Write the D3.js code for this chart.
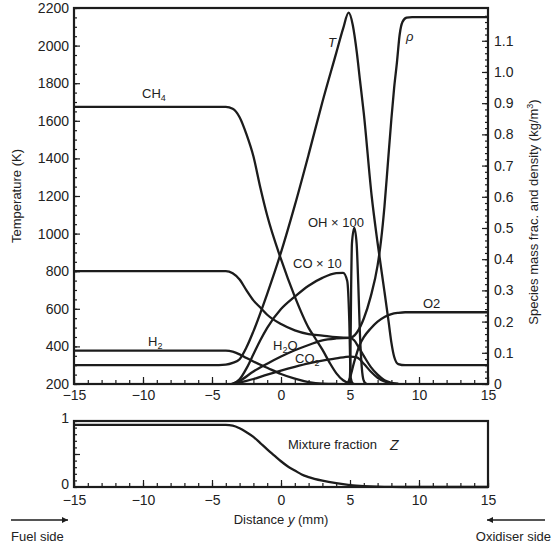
<!DOCTYPE html>
<html><head><meta charset="utf-8">
<script src="https://cdn.jsdelivr.net/npm/d3@7"></script>
<style>
body{margin:0;background:#fff;}
svg text{font-family:"Liberation Sans",Arial,sans-serif;fill:#222;}
</style></head><body>
<svg id="c" width="554" height="547"></svg>
<script>
// ---- data (x in mm) ----
const xTicks = [-15,-10,-5,0,5,10,15];
const tTicks = [200,400,600,800,1000,1200,1400,1600,1800,2000,2200];
const rTicks = [0,0.1,0.2,0.3,0.4,0.5,0.6,0.7,0.8,0.9,1.0,1.1];
const zTicks = [0,1];

// Temperature (K) – left axis
const temperature = [[-15,300],[-5,300],[-4,303],[-3.5,312],[-3,332],[-2.5,395],[-2,480],[-1,680],[0,900],[1,1150],[2,1420],[3,1700],[4,1960],[4.5,2090],[4.9,2175],[5.2,2110],[5.5,1960],[5.72,1817],[6,1640],[6.57,1200],[7,950],[7.5,690],[7.8,530],[8,420],[8.2,345],[8.5,306],[9,300],[15,300]];
// density (kg/m3) – right axis
const density = [[-15,0.362],[-4,0.362],[-3.5,0.355],[-3,0.335],[-2.5,0.30],[-2,0.268],[-1.5,0.245],[-1,0.222],[0,0.192],[1,0.172],[2,0.16],[3,0.155],[4,0.15],[5,0.148],[5.5,0.165],[6,0.21],[6.5,0.28],[7,0.38],[7.25,0.46],[7.5,0.57],[7.75,0.71],[8,0.85],[8.2,0.95],[8.4,1.03],[8.6,1.12],[8.8,1.16],[9.1,1.174],[9.5,1.176],[15,1.176]];
// species mass fractions – right axis
const ch4 = [[-15,0.888],[-4,0.888],[-3.5,0.882],[-3,0.855],[-2.5,0.80],[-2,0.73],[-1.5,0.63],[-1,0.54],[0,0.40],[1,0.28],[2,0.18],[2.5,0.145],[3,0.11],[3.5,0.07],[4,0.035],[4.5,0.012],[5,0.002],[5.3,0]];
const h2 = [[-15,0.107],[-4,0.107],[-3.5,0.104],[-3,0.095],[-2.5,0.083],[-2,0.072],[-1,0.052],[0,0.032],[1,0.017],[2,0.006],[3,0.001],[4,0]];
const o2 = [[4.8,0],[5,0.02],[5.3,0.07],[5.7,0.125],[6,0.15],[6.5,0.178],[7,0.2],[7.5,0.215],[8,0.224],[8.5,0.228],[9,0.23],[15,0.23]];
const h2o = [[-3.6,0],[-3,0.01],[-2,0.04],[-1,0.065],[0,0.088],[1,0.108],[2,0.125],[3,0.14],[4,0.146],[5,0.148],[5.3,0.14],[5.6,0.12],[6,0.09],[6.5,0.055],[7,0.03],[7.5,0.012],[8,0.004],[8.5,0]];
const co2 = [[-3.3,0],[-3,0.004],[-2,0.016],[-1,0.03],[0,0.043],[1,0.055],[2,0.066],[3,0.075],[4,0.082],[5,0.088],[5.5,0.085],[6,0.065],[6.5,0.04],[7,0.02],[7.5,0.008],[8,0.002],[8.5,0]];
const coTimes10 = [[-3.5,0],[-3,0.015],[-2.5,0.05],[-2,0.095],[-1.5,0.14],[-1,0.18],[0,0.24],[1,0.28],[2,0.315],[3,0.34],[4,0.355],[4.5,0.356],[4.8,0.33],[4.95,0.2],[5.05,0.02],[5.2,0]];
const ohTimes100 = [[4.95,0],[5.02,0.05],[5.08,0.3],[5.14,0.45],[5.31,0.50],[5.48,0.45],[5.6,0.32],[5.72,0.16],[5.85,0.055],[6.0,0.01],[6.2,0]];
// mixture fraction – lower panel
const mixZ = [[-15,0.94],[-4,0.94],[-3.5,0.93],[-3,0.89],[-2.5,0.83],[-2,0.76],[-1.5,0.665],[-1,0.57],[-0.5,0.48],[0,0.39],[0.5,0.31],[1,0.25],[1.5,0.19],[2,0.15],[3,0.095],[4,0.057],[5,0.03],[6,0.014],[7,0.005],[8,0.001],[9,0],[15,0]];

// ---- layout ----
const svg = d3.select("#c");
const L=74, R=488, T1=8, B1=384, T2=421, B2=487;
const x = d3.scaleLinear().domain([-15,15]).range([L,R]);
const yT = d3.scaleLinear().domain([200,2200]).range([B1,T1]);
const yR = d3.scaleLinear().domain([0,1.205]).range([B1,T1]);
const yZ = d3.scaleLinear().domain([0,1]).range([B2,T2]);
const minus = s => String(s).replace("-","\u2212");
const ink = "#1c1c1c";

function axisStyle(g){ g.select(".domain").remove(); g.selectAll("line").attr("stroke",ink).attr("stroke-width",1.2); g.selectAll("text").attr("font-size",14).attr("fill","#222").attr("font-family","Liberation Sans, Arial, sans-serif"); }

// top panel axes
svg.append("g").attr("transform",`translate(0,${B1})`)
  .call(d3.axisBottom(x).tickValues(d3.range(-15,16,1)).tickSize(-4).tickFormat("")).call(axisStyle);
svg.append("g").attr("transform",`translate(0,${B1})`)
  .call(d3.axisBottom(x).tickValues(xTicks).tickSize(-7).tickPadding(6).tickFormat(minus)).call(axisStyle);
svg.append("g").attr("transform",`translate(${L},0)`)
  .call(d3.axisLeft(yT).tickValues(d3.range(200,2201,50)).tickSize(-3).tickFormat("")).call(axisStyle);
svg.append("g").attr("transform",`translate(${L},0)`)
  .call(d3.axisLeft(yT).tickValues(tTicks).tickSize(-6).tickPadding(5).tickFormat(d=>String(d))).call(axisStyle);
svg.append("g").attr("transform",`translate(${R},0)`)
  .call(d3.axisRight(yR).tickValues(d3.range(0,1.2,0.02)).tickSize(-3).tickFormat("")).call(axisStyle);
svg.append("g").attr("transform",`translate(${R},0)`)
  .call(d3.axisRight(yR).tickValues(rTicks).tickSize(-6).tickPadding(6).tickFormat(d=>d===0?"0":d3.format(".1f")(d))).call(axisStyle);

// bottom panel axes
svg.append("g").attr("transform",`translate(0,${B2})`)
  .call(d3.axisBottom(x).tickValues(d3.range(-15,16,1)).tickSize(-4).tickFormat("")).call(axisStyle);
svg.append("g").attr("transform",`translate(0,${B2})`)
  .call(d3.axisBottom(x).tickValues(xTicks).tickSize(-7).tickPadding(8).tickFormat(minus)).call(axisStyle);
svg.append("g").attr("transform",`translate(${L},0)`)
  .call(d3.axisLeft(yZ).tickValues(d3.range(0,1.01,0.1)).tickSize(-3).tickFormat("")).call(axisStyle);
svg.append("g").attr("transform",`translate(${L},0)`)
  .call(d3.axisLeft(yZ).tickValues([0.5]).tickSize(-6).tickFormat("")).call(axisStyle);
svg.append("g").attr("transform",`translate(${L},0)`)
  .call(d3.axisLeft(yZ).tickValues(zTicks).tickSize(0).tickPadding(5).tickFormat(d=>String(d))).call(axisStyle)
  .call(g=>g.selectAll("text").attr("dy","0.1em"));

// curves
svg.append("clipPath").attr("id","ct").append("rect").attr("x",L).attr("y",T1).attr("width",R-L).attr("height",B1-T1);
const gTop = svg.append("g").attr("clip-path","url(#ct)");
const lineR = d3.line().x(d=>x(d[0])).y(d=>yR(d[1])).curve(d3.curveMonotoneX);
const lineT = d3.line().x(d=>x(d[0])).y(d=>yT(d[1])).curve(d3.curveMonotoneX);
const lineZ = d3.line().x(d=>x(d[0])).y(d=>yZ(d[1])).curve(d3.curveMonotoneX);
const stroke = p => p.attr("fill","none").attr("stroke",ink).attr("stroke-width",2.3).attr("stroke-linejoin","round");
[ch4,h2,o2,h2o,co2,coTimes10,ohTimes100,density].forEach(s=>gTop.append("path").attr("d",lineR(s)).call(stroke));
gTop.append("path").attr("d",lineT(temperature)).call(stroke);
svg.append("path").attr("d",lineZ(mixZ)).call(stroke);

// frames
svg.append("rect").attr("x",L).attr("y",T1).attr("width",R-L).attr("height",B1-T1).attr("fill","none").attr("stroke",ink).attr("stroke-width",2.2);
svg.append("rect").attr("x",L).attr("y",T2).attr("width",R-L).attr("height",B2-T2).attr("fill","none").attr("stroke",ink).attr("stroke-width",2.2);

// labels
function lab(xp,yp,parts,opts={}){
  const t = svg.append("text").attr("x",xp).attr("y",yp).attr("font-size",opts.size||13).attr("text-anchor",opts.anchor||"start");
  if(opts.italic) t.attr("font-style","italic");
  parts.forEach(part=>{
    const ts=t.append("tspan").text(part.t);
    if(part.sub){ts.attr("font-size",9).attr("dy",3);}
    if(part.up){ts.attr("dy",-3);}
  });
  return t;
}
lab(142,98,[{t:"CH"},{t:"4",sub:true}]);
lab(328,47,[{t:"T"}],{italic:true});
lab(406,41,[{t:"ρ"}],{italic:true});
lab(308,227,[{t:"OH × 100"}]);
lab(293,268,[{t:"CO × 10"}]);
lab(423,308,[{t:"O2"}]);
lab(148,346,[{t:"H"},{t:"2",sub:true}]);
lab(273,350,[{t:"H"},{t:"2",sub:true},{t:"O",up:true}]);
lab(295,363,[{t:"CO"},{t:"2",sub:true}]);
lab(288,449,[{t:"Mixture fraction"}]);
lab(390,450,[{t:"Z"}],{italic:true,size:14});

// axis titles
svg.append("text").attr("transform","translate(21,196) rotate(-90)").attr("text-anchor","middle").attr("font-size",13).text("Temperature (K)");
const rt = svg.append("text").attr("transform","translate(538,212) rotate(-90)").attr("text-anchor","middle").attr("font-size",13);
rt.append("tspan").text("Species mass frac. and density (kg/m");
rt.append("tspan").text("3").attr("font-size",9).attr("dy",-5);
rt.append("tspan").text(")").attr("dy",5);
const dt = svg.append("text").attr("x",281).attr("y",524).attr("text-anchor","middle").attr("font-size",13);
dt.append("tspan").text("Distance ");
dt.append("tspan").text("y").attr("font-style","italic");
dt.append("tspan").text(" (mm)");
svg.append("text").attr("x",11).attr("y",541).attr("font-size",13).text("Fuel side");
svg.append("text").attr("x",551).attr("y",541).attr("text-anchor","end").attr("font-size",13).text("Oxidiser side");

// arrows
const defs = svg.append("defs");
defs.append("marker").attr("id","ah").attr("viewBox","0 0 10 10").attr("refX",10).attr("refY",5)
  .attr("markerWidth",10).attr("markerHeight",6).attr("markerUnits","userSpaceOnUse").attr("orient","auto")
  .append("path").attr("d","M0,0 L10,5 L0,10 Z").attr("fill",ink);
svg.append("line").attr("x1",11).attr("y1",520).attr("x2",68).attr("y2",520).attr("stroke",ink).attr("stroke-width",1.4).attr("marker-end","url(#ah)");
svg.append("line").attr("x1",545).attr("y1",520).attr("x2",487).attr("y2",520).attr("stroke",ink).attr("stroke-width",1.4).attr("marker-end","url(#ah)");
</script>
</body></html>
